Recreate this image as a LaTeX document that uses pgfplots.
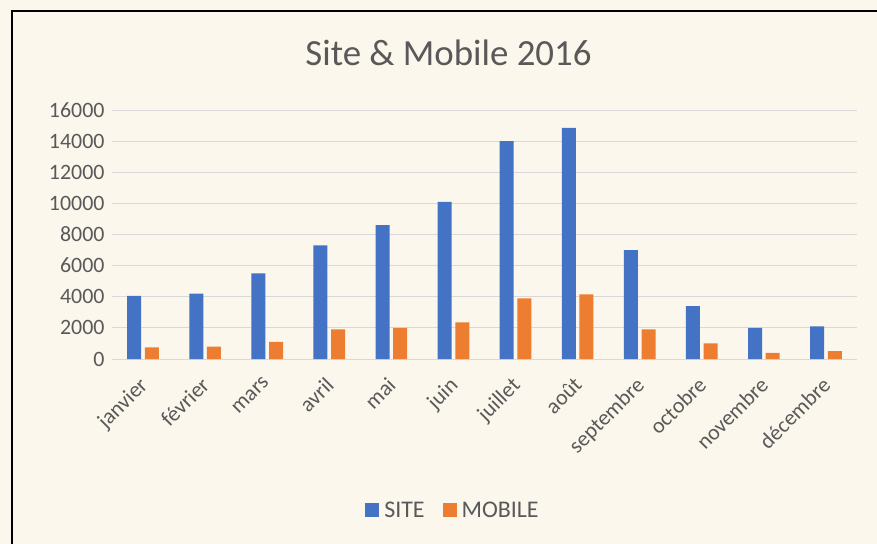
\documentclass[border=0pt]{standalone}
\usepackage{pgfplots}
\pgfplotsset{compat=1.18}
\usepackage{fontspec}
\setmainfont{Carlito}
\usetikzlibrary{backgrounds}
\definecolor{bg}{HTML}{FCF7EC}
\definecolor{siteblue}{HTML}{4472C4}
\definecolor{mobor}{HTML}{ED7D31}
\definecolor{txt}{HTML}{595959}
\definecolor{grd}{HTML}{D9D9D9}
\begin{document}
\begin{tikzpicture}
\begin{axis}[name=ax, scale only axis, width=745bp, height=249bp,
  ybar=3.6bp, bar width=14bp,
  xmin=-0.5, xmax=11.5, ymin=0, ymax=16000,
  xtick={0,...,11},
  xticklabels={janvier,février,mars,avril,mai,juin,juillet,août,septembre,octobre,novembre,décembre},
  ytick={0,2000,...,16000},
  scaled y ticks=false,
  axis line style={draw=none}, major tick length=0pt,
  ymajorgrids, grid style={grd, line width=1bp},
  yticklabel style={font=\fontsize{22}{22}\selectfont, text=txt, /pgf/number format/assume math mode=true, /pgf/number format/1000 sep={}, xshift=-4bp},
  xticklabel style={font=\fontsize{22}{22}\selectfont, text=txt, xshift=-5bp, yshift=-12bp, rotate=45, anchor=north east},
  legend style={at={(0.4577,-0.6064)}, anchor=center, draw=none, fill=none, legend columns=2, font=\fontsize{24}{24}\selectfont, text=txt, /tikz/every even column/.append style={column sep=16bp}, /tikz/every odd column/.append style={column sep=3bp}},
  legend image code/.code={\fill[#1] (0bp,-7bp) rectangle (14bp,7bp);},
]
\addplot[fill=siteblue, draw=none] coordinates {(0,4050) (1,4200) (2,5500) (3,7300) (4,8600) (5,10100) (6,14000) (7,14850) (8,7000) (9,3400) (10,2000) (11,2100)};
\addplot[fill=mobor, draw=none] coordinates {(0,750) (1,800) (2,1100) (3,1900) (4,2000) (5,2350) (6,3900) (7,4150) (8,1900) (9,1000) (10,400) (11,500)};
\legend{SITE,MOBILE}
\end{axis}
\node[anchor=base, font=\fontsize{37}{37}\selectfont, text=txt] at ([shift={(336.5bp,293bp)}]ax.south west) {Site \& Mobile 2016};
\begin{scope}[on background layer]
\fill[bg] ([shift={(-112bp,-185bp)}]ax.south west) rectangle ([shift={(765bp,359bp)}]ax.south west);
\draw[line width=2.5bp] ([shift={(-100bp,-190bp)}]ax.south west) -- ([shift={(-100bp,348bp)}]ax.south west) -- ([shift={(770bp,348bp)}]ax.south west);
\end{scope}
\pgfresetboundingbox
\path[use as bounding box] ([shift={(-112bp,-185bp)}]ax.south west) rectangle ([shift={(765bp,359bp)}]ax.south west);
\end{tikzpicture}
\end{document}
